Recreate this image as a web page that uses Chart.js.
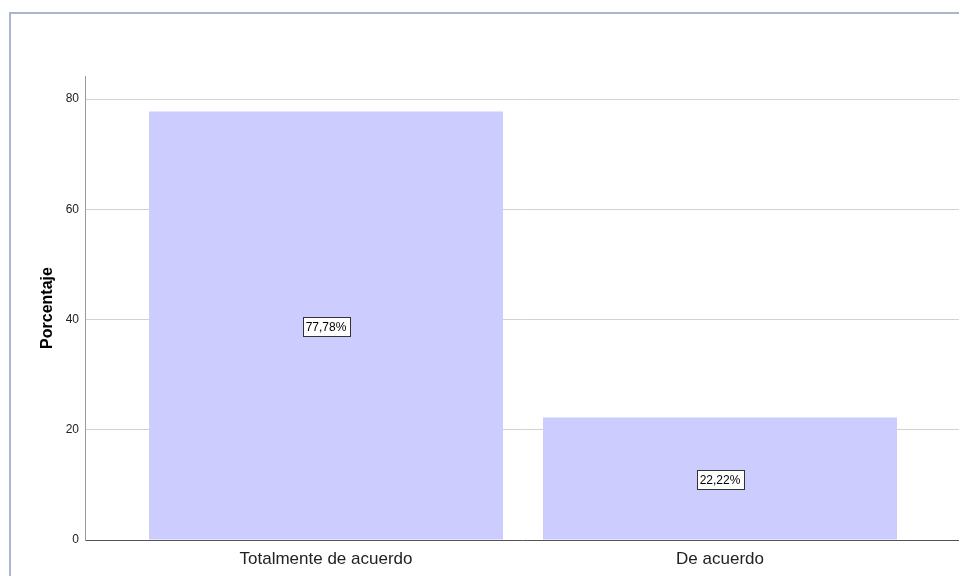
<!DOCTYPE html>
<html>
<head>
<meta charset="utf-8">
<script src="https://cdn.jsdelivr.net/npm/chart.js@4/dist/chart.umd.min.js"></script>
<style>
    html, body { margin: 0; padding: 0; background: #fff; overflow: hidden; }
    #wrap { position: relative; width: 959px; height: 576px; }
    #frame {
        position: absolute; left: 9px; top: 12px; width: 2000px; height: 2000px;
        border-top: 2px solid #aab7ca; border-left: 2px solid #aab7ca;
        pointer-events: none;
    }
</style>
</head>
<body>
<div id="wrap">
    <canvas id="barChart"></canvas>
    <div id="frame"></div>
</div>
<script>
// Data
const categories = ['Totalmente de acuerdo', 'De acuerdo'];
const percentages = [77.78, 22.22];
const valueLabels = ['77,78%', '22,22%'];
const yTicks = [0, 20, 40, 60, 80];

const FONT = 'Arial, "Liberation Sans", sans-serif';

// Boxed value labels in the middle of each bar
const boxLabels = {
    id: 'boxLabels',
    afterDatasetsDraw(chart) {
        const ctx = chart.ctx;
        const meta = chart.getDatasetMeta(0);
        ctx.save();
        ctx.font = '12px ' + FONT;
        ctx.textAlign = 'center';
        ctx.textBaseline = 'middle';
        meta.data.forEach((bar, i) => {
            const text = valueLabels[i];
            const cx = bar.x;
            const cy = (bar.y + bar.base) / 2 + 1;
            const w = ctx.measureText(text).width + 6;
            const h = 19;
            ctx.fillStyle = '#fff';
            ctx.fillRect(Math.round(cx - w / 2) + 0.5, Math.round(cy - h / 2) + 0.5, Math.round(w), h);
            ctx.strokeStyle = '#333';
            ctx.lineWidth = 1;
            ctx.strokeRect(Math.round(cx - w / 2) + 0.5, Math.round(cy - h / 2) + 0.5, Math.round(w), h);
            ctx.fillStyle = '#000';
            ctx.fillText(text, cx, cy + 1);
        });
        ctx.restore();
    }
};

const ctx = document.getElementById('barChart').getContext('2d');
new Chart(ctx, {
    type: 'bar',
    data: {
        datasets: [{
            data: percentages.map((v, i) => ({ x: i + 1, y: v })),
            backgroundColor: '#ccccff',
            borderWidth: 0,
            barPercentage: 0.8985,
            categoryPercentage: 1
        }]
    },
    options: {
        responsive: true,
        maintainAspectRatio: false,
        animation: false,
        layout: { padding: { left: 0, right: 0, top: 76, bottom: 0 } },
        plugins: {
            legend: { display: false },
            tooltip: { enabled: false }
        },
        scales: {
            x: {
                type: 'linear',
                offset: false,
                min: 0.3883,
                max: 2.6066,
                afterBuildTicks: s => { s.ticks = categories.map((c, i) => ({ value: i + 1 })); },
                afterFit: s => { s.height = 36; },
                grid: { display: false, drawTicks: false, offset: false },
                border: { color: '#555', width: 1 },
                ticks: {
                    callback: v => categories[v - 1],
                    font: { family: FONT, size: 17 },
                    color: '#222',
                    padding: 9,
                    maxRotation: 0
                }
            },
            y: {
                min: 0,
                max: 84.2,
                afterBuildTicks: s => { s.ticks = yTicks.map(v => ({ value: v })); },
                afterFit: s => { s.width = 85; },
                grid: {
                    color: c => c.tick && c.tick.value === 0 ? 'rgba(0,0,0,0)' : '#d2d2d2',
                    drawTicks: false
                },
                border: { color: '#9a9a9a', width: 1 },
                ticks: {
                    font: { family: FONT, size: 12 },
                    color: '#222',
                    padding: 6
                },
                title: {
                    display: true,
                    text: 'Porcentaje',
                    font: { family: FONT, size: 16, weight: 'bold' },
                    color: '#000',
                    padding: { top: 38, bottom: 0 }
                }
            }
        }
    },
    plugins: [boxLabels]
});
</script>
</body>
</html>
